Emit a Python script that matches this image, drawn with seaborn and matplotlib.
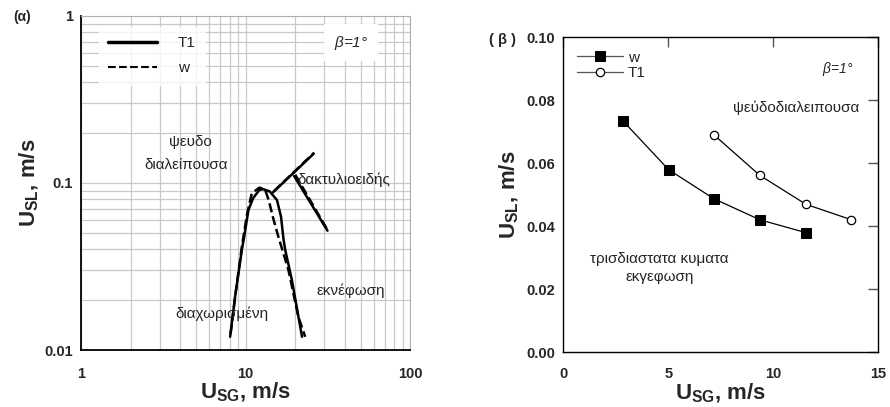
import numpy as np
import matplotlib
matplotlib.use("Agg")
import matplotlib.pyplot as plt
from matplotlib.lines import Line2D
from matplotlib.ticker import LogLocator, FixedLocator, NullFormatter, FixedFormatter
import seaborn as sns
import pandas as pd

sns.set_style("white")
plt.rcParams['font.family'] = ['Liberation Sans', 'DejaVu Sans']
plt.rcParams['mathtext.fontset'] = 'custom'
plt.rcParams['mathtext.rm'] = 'Liberation Sans'
plt.rcParams['mathtext.bf'] = 'Liberation Sans:bold'
plt.rcParams['mathtext.it'] = 'Liberation Sans:italic'

# (α) flow-pattern map, log-log
t1_dome_x = [8.05, 8.63, 9.48, 9.8, 10.4, 11.1, 12.1, 12.8, 14.0, 15.5, 16.4, 17.0, 17.4, 19.1, 22.0]
t1_dome_y = [0.012, 0.0209, 0.0397, 0.0477, 0.0689, 0.081, 0.0908, 0.0917, 0.089, 0.079, 0.0628, 0.0456, 0.0397, 0.0262, 0.012]
t1_ann_x = [14.6, 25.8]
t1_ann_y = [0.0875, 0.149]
t1_branch_x = [19.7, 31.4]
t1_branch_y = [0.110, 0.0518]

w_dome_x = [8.1, 8.7, 9.5, 10.2, 10.9, 12.1, 13.1, 13.8, 14.8, 15.8, 18.2, 20.9, 23.0]
w_dome_y = [0.0125, 0.022, 0.042, 0.065, 0.0867, 0.0937, 0.0917, 0.079, 0.060, 0.0477, 0.0301, 0.0158, 0.012]
w_ann_x = [14.8, 26.1]
w_ann_y = [0.089, 0.152]
w_branch_x = [20.0, 31.0]
w_branch_y = [0.112, 0.0535]

# (β) transition boundaries
w_x = [2.82, 5.01, 7.16, 9.35, 11.55]
w_y = [0.0735, 0.0579, 0.0487, 0.042, 0.0379]
t1_x = [7.16, 9.35, 11.55, 13.71]
t1_y = [0.069, 0.0561, 0.0469, 0.042]

fig = plt.figure(figsize=(8.9, 4.07), dpi=100)
ax1 = fig.add_axes([0.091, 0.140, 0.370, 0.821])
ax2 = fig.add_axes([0.633, 0.135, 0.354, 0.774])

tick_size = 10.5
label_font = dict(fontsize=16, fontweight='bold')
greek = dict(fontsize=11)

# ---- left panel
segs = [(t1_dome_x, t1_dome_y, '-'), (t1_ann_x, t1_ann_y, '-'), (t1_branch_x, t1_branch_y, '-'),
        (w_dome_x, w_dome_y, '--'), (w_ann_x, w_ann_y, '--'), (w_branch_x, w_branch_y, '--')]
for xs, ys, ls in segs:
    sns.lineplot(x=xs, y=ys, ax=ax1, sort=False, estimator=None, color='black',
                 linestyle=ls, linewidth=1.8)
ax1.set_xscale('log')
ax1.set_yscale('log')
ax1.set_xlim(1, 100)
ax1.set_ylim(0.01, 1)
ax1.grid(True, which='both', color='#c8c8c8', linewidth=0.9)
ax1.set_axisbelow(True)
for s in ['top', 'right']:
    ax1.spines[s].set_color('#b0b0b0')
for s in ['left', 'bottom']:
    ax1.spines[s].set_color('black')
    ax1.spines[s].set_linewidth(1.3)
ax1.xaxis.set_major_locator(FixedLocator([1, 10, 100]))
ax1.xaxis.set_major_formatter(FixedFormatter(['1', '10', '100']))
ax1.yaxis.set_major_locator(FixedLocator([0.01, 0.1, 1]))
ax1.yaxis.set_major_formatter(FixedFormatter(['0.01', '0.1', '1']))
ax1.xaxis.set_minor_locator(LogLocator(base=10, subs=np.arange(2, 10)))
ax1.yaxis.set_minor_locator(LogLocator(base=10, subs=np.arange(2, 10)))
ax1.xaxis.set_minor_formatter(NullFormatter())
ax1.yaxis.set_minor_formatter(NullFormatter())
ax1.tick_params(axis='both', which='both', direction='in', length=5, color='#555555')
ax1.tick_params(axis='x', which='both', length=0, pad=12)
ax1.tick_params(axis='y', which='both', pad=6)
for lab in ax1.get_xticklabels() + ax1.get_yticklabels():
    lab.set_fontsize(tick_size)
    lab.set_fontweight('bold')
ax1.set_xlabel(r'$\mathbf{U_{SG}}$, m/s', labelpad=0, **label_font)
ax1.set_ylabel(r'$\mathbf{U_{SL}}$, m/s', labelpad=2, **label_font)

h1 = [Line2D([], [], color='black', linewidth=2.5, linestyle='-'),
      Line2D([], [], color='black', linewidth=1.5, linestyle='--')]
leg1 = ax1.legend(h1, ['T1', 'w'], loc='upper left', bbox_to_anchor=(0.03, 0.99),
                  handlelength=3.2, handletextpad=1.4, labelspacing=0.75, fontsize=11,
                  frameon=True, fancybox=False, borderpad=0.6)
leg1.get_frame().set_facecolor('white')
leg1.get_frame().set_edgecolor('white')
ax1.text(0.82, 0.92, r'$\it{\beta}$=1°', transform=ax1.transAxes, ha='center', va='center',
         fontsize=11, fontstyle='italic',
         bbox=dict(facecolor='white', edgecolor='none', pad=7))
ax1.text(4.6, 0.176, 'ψευδο', ha='center', va='center', **greek)
ax1.text(4.35, 0.128, 'διαλείπουσα', ha='center', va='center', **greek)
ax1.text(20.6, 0.104, 'δακτυλιοειδής', ha='left', va='center', **greek)
ax1.text(26.8, 0.0225, 'εκνέφωση', ha='left', va='center', **greek)
ax1.text(3.73, 0.0164, 'διαχωρισμένη', ha='left', va='center', **greek)
fig.text(0.025, 0.958, '(α)', fontsize=10, fontweight='bold', ha='center', va='center')

# ---- right panel
df_b = pd.DataFrame({'x': w_x + t1_x, 'y': w_y + t1_y,
                     'series': ['w'] * len(w_x) + ['T1'] * len(t1_x)})
sns.lineplot(data=df_b[df_b.series == 'w'], x='x', y='y', ax=ax2, color='black',
             linewidth=0.9, marker='s', markersize=7, markerfacecolor='black',
             markeredgecolor='black', label='w', estimator=None)
sns.lineplot(data=df_b[df_b.series == 'T1'], x='x', y='y', ax=ax2, color='black',
             linewidth=0.9, marker='o', markersize=6, markerfacecolor='white',
             markeredgecolor='black', markeredgewidth=0.9, label='T1', estimator=None)
ax2.set_xlim(0, 15)
ax2.set_ylim(0, 0.10)
ax2.set_xticks([0, 5, 10, 15])
ax2.set_yticks([0, 0.02, 0.04, 0.06, 0.08, 0.10])
ax2.set_yticklabels(['0.00', '0.02', '0.04', '0.06', '0.08', '0.10'])
ax2.tick_params(axis='both', direction='in', length=7, width=1, color='#555555',
                top=True, right=True)
ax2.tick_params(axis='x', pad=11)
ax2.tick_params(axis='y', pad=6)
for lab in ax2.get_xticklabels() + ax2.get_yticklabels():
    lab.set_fontsize(tick_size)
    lab.set_fontweight('bold')
for s in ax2.spines.values():
    s.set_color('black')
    s.set_linewidth(1.0)
ax2.set_xlabel(r'$\mathbf{U_{SG}}$, m/s', labelpad=0, **label_font)
ax2.set_ylabel(r'$\mathbf{U_{SL}}$, m/s', labelpad=4, **label_font)
leg2 = ax2.legend(loc='upper left', bbox_to_anchor=(0.0, 1.0), frameon=False, fontsize=11,
                  handlelength=3.0, handletextpad=0.3, labelspacing=0.1, borderpad=0.4)
for ln in leg2.get_lines():
    ln.set_color('#555555')
    ln.set_markeredgecolor('black')
ax2.text(0.87, 0.9, r'$\it{\beta}$=1°', transform=ax2.transAxes, ha='center', va='center',
         fontsize=10, fontstyle='italic')
ax2.text(11.1, 0.0775, 'ψεύδοδιαλειπουσα', ha='center', va='center', **greek)
ax2.text(4.57, 0.0295, 'τρισδιαστατα κυματα', ha='center', va='center', **greek)
ax2.text(4.57, 0.0238, 'εκγεφωση', ha='center', va='center', **greek)
fig.text(0.565, 0.902, '( β )', fontsize=10.5, fontweight='bold', ha='center', va='center')

fig.savefig('out.png', dpi=100)
